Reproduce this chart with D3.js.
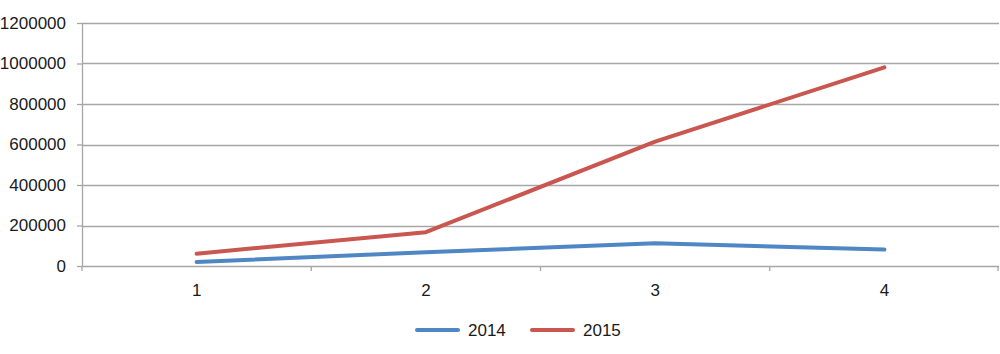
<!DOCTYPE html>
<html>
<head>
<meta charset="utf-8">
<script src="https://cdn.jsdelivr.net/npm/d3@7"></script>
<style>
  body { margin: 0; background: #fff; }
  text { font-family: "Liberation Sans", Arial, sans-serif; fill: #1a1a1a; }
</style>
</head>
<body>
<div id="chart"></div>
<script>
const svgWidth = 1000;
const svgHeight = 354;

// data
const categories = ["1", "2", "3", "4"];
const series2014 = [20000, 68000, 112000, 81000];
const series2015 = [61000, 167000, 614000, 981000];
const yTicks = [0, 200000, 400000, 600000, 800000, 1000000, 1200000];
const seriesNames = ["2014", "2015"];
const seriesColors = ["#4f86c4", "#c9564f"];

const margin = { top: 23, right: 1, bottom: 88, left: 82 };
const width = svgWidth - margin.left - margin.right;
const height = svgHeight - margin.top - margin.bottom;

const svg = d3.select("#chart")
  .append("svg")
  .attr("width", svgWidth)
  .attr("height", svgHeight);

const chartGroup = svg.append("g")
  .attr("transform", `translate(${margin.left}, ${margin.top})`);

const xScale = d3.scaleBand()
  .domain(categories)
  .range([0, width]);

const yScale = d3.scaleLinear()
  .domain([0, 1200000])
  .range([height, 0]);

// gridlines
chartGroup.append("g")
  .selectAll("line")
  .data(yTicks.slice(1))
  .enter()
  .append("line")
  .attr("x1", 0)
  .attr("x2", width)
  .attr("y1", d => Math.round(yScale(d)) + 0.5)
  .attr("y2", d => Math.round(yScale(d)) + 0.5)
  .attr("stroke", "#a6a6a6")
  .attr("stroke-width", 1.3);

// y axis
const yAxis = chartGroup.append("g")
  .call(d3.axisLeft(yScale).tickValues(yTicks).tickSize(5).tickPadding(11).tickFormat(d3.format("d")));
yAxis.select(".domain").attr("stroke", "#a6a6a6").attr("stroke-width", 1.3).attr("d", `M0.5,0V${height}`);
yAxis.selectAll(".tick line").attr("stroke", "#a6a6a6").attr("stroke-width", 1.3);
yAxis.selectAll("text").attr("font-size", 17).style("fill", "#1a1a1a");

// x axis, ticks at band edges
const xAxis = chartGroup.append("g")
  .attr("transform", `translate(0, ${height})`);
xAxis.append("line")
  .attr("x1", 0).attr("x2", width)
  .attr("y1", 0.5).attr("y2", 0.5)
  .attr("stroke", "#a6a6a6").attr("stroke-width", 1.3);
xAxis.selectAll(".edge")
  .data(categories.concat(["end"]))
  .enter()
  .append("line")
  .attr("x1", (d, i) => i < categories.length ? xScale(d) : width - 1)
  .attr("x2", (d, i) => i < categories.length ? xScale(d) : width - 1)
  .attr("y1", 0).attr("y2", 5)
  .attr("stroke", "#a6a6a6").attr("stroke-width", 1.3);
xAxis.selectAll(".lbl")
  .data(categories)
  .enter()
  .append("text")
  .attr("x", d => xScale(d) + xScale.bandwidth() / 2)
  .attr("y", 30)
  .attr("text-anchor", "middle")
  .attr("font-size", 17)
  .text(d => d);

// lines
const line = d3.line()
  .x((d, i) => xScale(categories[i]) + xScale.bandwidth() / 2)
  .y(d => yScale(d));

[series2014, series2015].forEach((s, i) => {
  chartGroup.append("path")
    .datum(s)
    .attr("d", line)
    .attr("fill", "none")
    .attr("stroke", seriesColors[i])
    .attr("stroke-width", 4)
    .attr("stroke-linecap", "round")
    .attr("stroke-linejoin", "round");
});

// legend
const legend = svg.append("g")
  .attr("transform", "translate(415, 330)");
seriesNames.forEach((name, i) => {
  const g = legend.append("g").attr("transform", `translate(${i * 115}, 0)`);
  g.append("line")
    .attr("x1", 2).attr("x2", 43)
    .attr("y1", 0).attr("y2", 0)
    .attr("stroke", seriesColors[i])
    .attr("stroke-width", 4)
    .attr("stroke-linecap", "round");
  g.append("text")
    .attr("x", 53)
    .attr("y", 6)
    .attr("font-size", 17)
    .text(name);
});
</script>
</body>
</html>
